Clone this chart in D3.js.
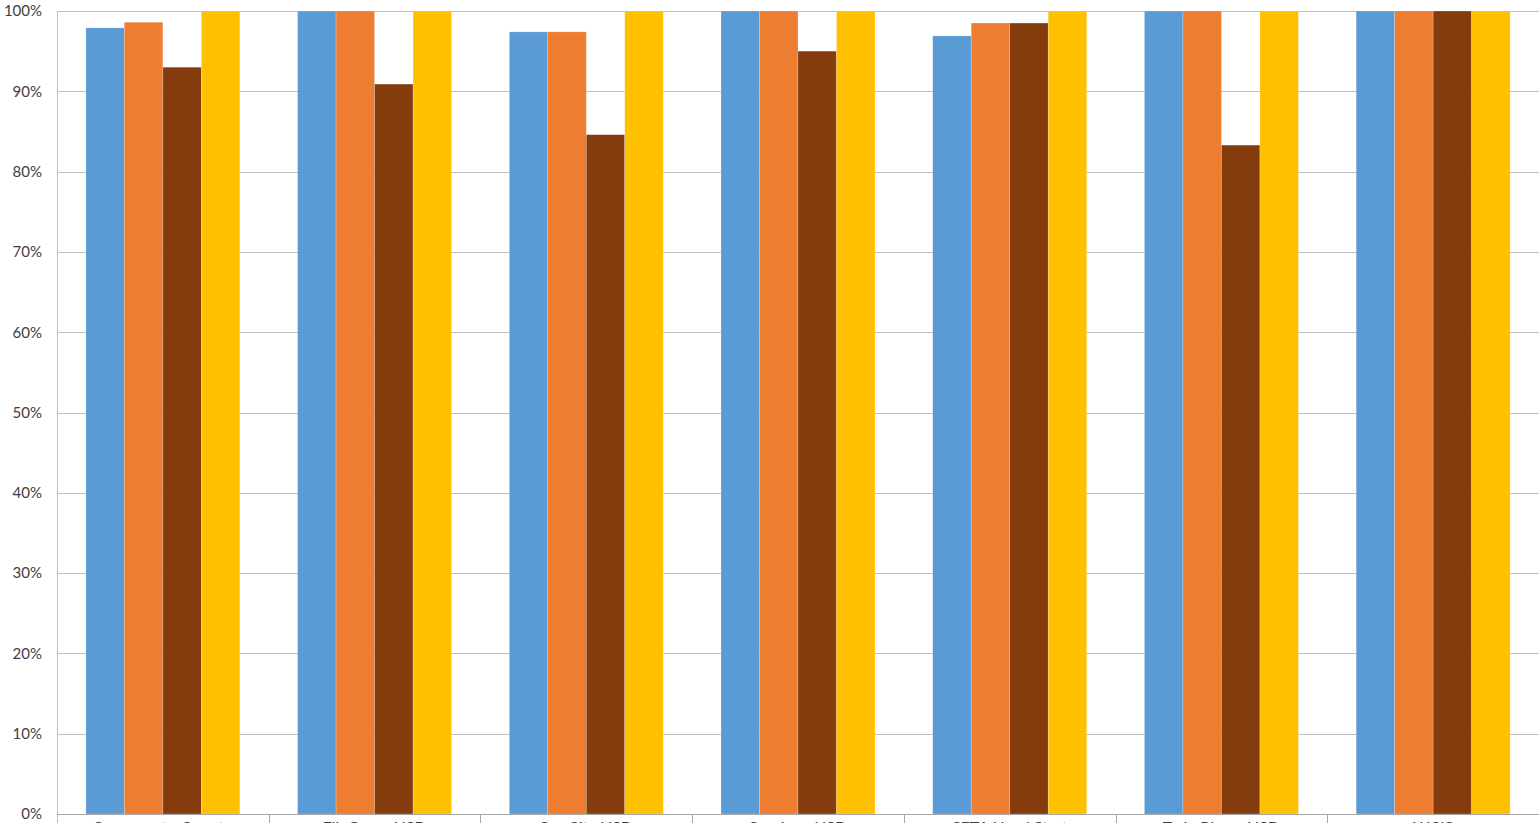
<!DOCTYPE html>
<html>
<head>
<meta charset="utf-8">
<script src="https://cdn.jsdelivr.net/npm/d3@7"></script>
<style>
  html, body { margin: 0; padding: 0; background: #fff; overflow: hidden; }
  svg { display: block; }
  .tick text { font-family: Lato, "Open Sans", sans-serif; font-size: 15px; fill: #404040; }
</style>
</head>
<body>
<div id="chart"></div>
<script>
// categories (bottom labels, mostly cut off in the source)
var categories = ["Sacramento County", "Elk Grove USD", "Sac City USD", "San Juan USD", "SETA Head Start", "Twin Rivers USD", "WCIS"];
var seriesNames = ["Series 1", "Series 2", "Series 3", "Series 4"];
var colors = ["#5B9BD5", "#ED7D31", "#843C0C", "#FFC000"];

// values in percent, one array per series
var series1 = [97.9, 100, 97.4, 100, 96.9, 100, 100];
var series2 = [98.6, 100, 97.4, 100, 98.5, 100, 100];
var series3 = [93.0, 90.9, 84.6, 95.0, 98.5, 83.3, 100];
var series4 = [100, 100, 100, 100, 100, 100, 100];
var yTicks = [0, 10, 20, 30, 40, 50, 60, 70, 80, 90, 100];

var width = 1539, height = 823;
var margin = {top: 11, right: 0, bottom: 9, left: 57};

var svg = d3.select("#chart").append("svg")
    .attr("width", width)
    .attr("height", height);

var x = d3.scaleBand()
    .domain(categories)
    .range([margin.left, width - margin.right])
    .paddingInner(0)
    .paddingOuter(0);

// excel style: gap width 150% of a bar, split on both sides
var gap = x.bandwidth() * 0.75 / 5.5;
var inner = d3.scaleBand()
    .domain(seriesNames)
    .range([gap, x.bandwidth() - gap])
    .paddingInner(0)
    .paddingOuter(0);

var y = d3.scaleLinear()
    .domain([0, 100])
    .range([height - margin.bottom, margin.top]);

// gridlines
svg.append("g")
    .selectAll("line")
    .data(yTicks)
    .enter()
    .append("line")
    .attr("x1", margin.left)
    .attr("x2", width)
    .attr("y1", function(d) { return Math.round(y(d)) + 0.5; })
    .attr("y2", function(d) { return Math.round(y(d)) + 0.5; })
    .style("stroke", "#BFBFBF")
    .style("stroke-width", 1);

var data = categories.map(function(c, i) {
    return [series1[i], series2[i], series3[i], series4[i]];
});

var groups = svg.append("g").selectAll("g")
    .data(data)
    .enter()
    .append("g")
    .attr("transform", function(d, i) { return "translate(" + x(categories[i]) + ",0)"; });

groups.selectAll("rect")
    .data(function(d) { return d.map(function(v, j) { return {v: v, s: seriesNames[j], j: j}; }); })
    .enter()
    .append("rect")
    .attr("x", function(d) { return inner(d.s); })
    .attr("width", inner.bandwidth())
    .attr("y", function(d) { return y(d.v); })
    .attr("height", function(d) { return y(0) - y(d.v); })
    .style("fill", function(d) { return colors[d.j]; })
    .style("stroke", "#ffffff")
    .style("stroke-opacity", 0.35)
    .style("stroke-width", 0.6);

// y axis labels
var yAxis = svg.append("g")
    .attr("transform", "translate(" + margin.left + ",0)")
    .call(d3.axisLeft(y).tickValues(yTicks).tickFormat(function(d) { return d + "%"; }).tickSize(0).tickPadding(15));
yAxis.select(".domain").remove();

// left axis line
svg.append("line")
    .attr("x1", margin.left + 0.5).attr("x2", margin.left + 0.5)
    .attr("y1", margin.top).attr("y2", height)
    .style("stroke", "#BFBFBF");

// x axis with category separators
var xAxis = svg.append("g")
    .attr("transform", "translate(0," + (Math.round(y(0)) + 0.5) + ")");
xAxis.append("line")
    .attr("x1", margin.left).attr("x2", width)
    .style("stroke", "#A6A6A6");
xAxis.selectAll(".sep")
    .data(categories.slice(1))
    .enter()
    .append("line")
    .attr("class", "sep")
    .attr("x1", function(d) { return Math.round(x(d)) + 0.5; })
    .attr("x2", function(d) { return Math.round(x(d)) + 0.5; })
    .attr("y1", 0).attr("y2", 10)
    .style("stroke", "#A6A6A6");
xAxis.selectAll("text")
    .data(categories)
    .enter()
    .append("text")
    .attr("x", function(d) { return x(d) + x.bandwidth() / 2; })
    .attr("y", 18)
    .attr("text-anchor", "middle")
    .style("font-family", "Lato, 'Open Sans', sans-serif")
    .style("font-size", "16px")
    .style("fill", "#404040")
    .text(function(d) { return d; });
</script>
</body>
</html>
